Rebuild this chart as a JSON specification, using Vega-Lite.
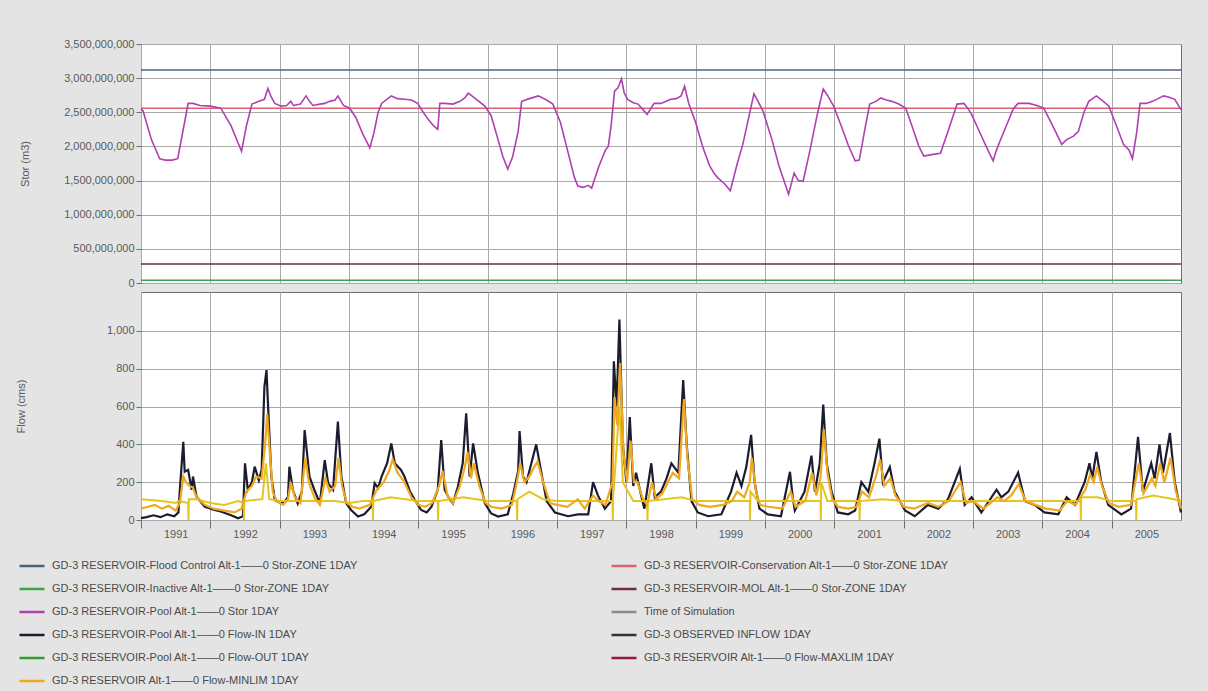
{
  "$schema": "https://vega.github.io/schema/vega-lite/v6.json",
  "background": "#E4E4E4",
  "padding": {"left": 14, "top": 37, "right": 25, "bottom": 5},
  "spacing": 2,
  "config": {
    "view": {"stroke": "#6E6E6E", "strokeWidth": 1, "fill": "#FFFFFF"},
    "axis": {"gridColor": "#A9A9A9", "gridOpacity": 1, "gridWidth": 1, "labelFont": "Liberation Sans", "labelFontSize": 11, "labelColor": "#5A5A5A", "titleFont": "Liberation Sans", "titleFontSize": 11, "titleFontWeight": "normal", "titleColor": "#5A5A5A", "domain": false, "tickColor": "#6E6E6E", "labelOverlap": false}
  },
  "datasets": {
    "zones": [
      {"k": "GD-3 RESERVOIR-Flood Control Alt-1——0 Stor-ZONE 1DAY", "v": 3.12e9},
      {"k": "GD-3 RESERVOIR-Conservation Alt-1——0 Stor-ZONE 1DAY", "v": 2.56e9},
      {"k": "GD-3 RESERVOIR-MOL Alt-1——0 Stor-ZONE 1DAY", "v": 0.28e9},
      {"k": "GD-3 RESERVOIR-Inactive Alt-1——0 Stor-ZONE 1DAY", "v": 0.04e9}
    ],
    "stor": [
      {"t":1991.0,"v":2.55e9},{"t":1991.03,"v":2.52e9},{"t":1991.15,"v":2.10e9},{"t":1991.27,"v":1.82e9},{"t":1991.35,"v":1.80e9},{"t":1991.45,"v":1.80e9},{"t":1991.53,"v":1.82e9},{"t":1991.6,"v":2.2e9},{"t":1991.68,"v":2.63e9},{"t":1991.75,"v":2.63e9},{"t":1991.85,"v":2.60e9},
      {"t":1992.0,"v":2.59e9},{"t":1992.15,"v":2.56e9},{"t":1992.3,"v":2.30e9},{"t":1992.4,"v":2.05e9},{"t":1992.45,"v":1.93e9},{"t":1992.52,"v":2.3e9},{"t":1992.6,"v":2.62e9},{"t":1992.7,"v":2.66e9},{"t":1992.78,"v":2.69e9},{"t":1992.83,"v":2.85e9},{"t":1992.88,"v":2.72e9},{"t":1992.93,"v":2.63e9},
      {"t":1993.02,"v":2.59e9},{"t":1993.1,"v":2.6e9},{"t":1993.16,"v":2.66e9},{"t":1993.2,"v":2.60e9},{"t":1993.3,"v":2.62e9},{"t":1993.38,"v":2.74e9},{"t":1993.43,"v":2.66e9},{"t":1993.48,"v":2.60e9},{"t":1993.58,"v":2.62e9},{"t":1993.65,"v":2.63e9},{"t":1993.72,"v":2.66e9},{"t":1993.8,"v":2.68e9},{"t":1993.84,"v":2.74e9},{"t":1993.92,"v":2.60e9},
      {"t":1994.01,"v":2.56e9},{"t":1994.1,"v":2.42e9},{"t":1994.2,"v":2.18e9},{"t":1994.3,"v":1.98e9},{"t":1994.36,"v":2.2e9},{"t":1994.42,"v":2.5e9},{"t":1994.47,"v":2.63e9},{"t":1994.61,"v":2.74e9},{"t":1994.7,"v":2.70e9},{"t":1994.8,"v":2.69e9},{"t":1994.9,"v":2.68e9},{"t":1994.99,"v":2.63e9},
      {"t":1995.07,"v":2.5e9},{"t":1995.14,"v":2.40e9},{"t":1995.22,"v":2.30e9},{"t":1995.28,"v":2.25e9},{"t":1995.31,"v":2.63e9},{"t":1995.38,"v":2.63e9},{"t":1995.5,"v":2.62e9},{"t":1995.6,"v":2.66e9},{"t":1995.67,"v":2.71e9},{"t":1995.72,"v":2.78e9},{"t":1995.81,"v":2.71e9},{"t":1995.96,"v":2.59e9},
      {"t":1996.05,"v":2.45e9},{"t":1996.15,"v":2.1e9},{"t":1996.22,"v":1.85e9},{"t":1996.29,"v":1.67e9},{"t":1996.36,"v":1.85e9},{"t":1996.44,"v":2.22e9},{"t":1996.49,"v":2.66e9},{"t":1996.6,"v":2.70e9},{"t":1996.73,"v":2.74e9},{"t":1996.85,"v":2.68e9},{"t":1996.94,"v":2.62e9},
      {"t":1997.05,"v":2.35e9},{"t":1997.15,"v":1.95e9},{"t":1997.25,"v":1.55e9},{"t":1997.3,"v":1.42e9},{"t":1997.38,"v":1.40e9},{"t":1997.45,"v":1.43e9},{"t":1997.5,"v":1.39e9},{"t":1997.6,"v":1.7e9},{"t":1997.7,"v":1.95e9},{"t":1997.74,"v":2.0e9},{"t":1997.78,"v":2.3e9},{"t":1997.83,"v":2.81e9},{"t":1997.88,"v":2.86e9},{"t":1997.93,"v":2.99e9},{"t":1997.97,"v":2.78e9},
      {"t":1998.02,"v":2.69e9},{"t":1998.1,"v":2.64e9},{"t":1998.17,"v":2.62e9},{"t":1998.23,"v":2.55e9},{"t":1998.3,"v":2.47e9},{"t":1998.4,"v":2.63e9},{"t":1998.5,"v":2.63e9},{"t":1998.64,"v":2.69e9},{"t":1998.72,"v":2.70e9},{"t":1998.79,"v":2.74e9},{"t":1998.84,"v":2.88e9},{"t":1998.9,"v":2.63e9},
      {"t":1999.0,"v":2.35e9},{"t":1999.1,"v":2.0e9},{"t":1999.2,"v":1.72e9},{"t":1999.27,"v":1.60e9},{"t":1999.32,"v":1.54e9},{"t":1999.42,"v":1.45e9},{"t":1999.5,"v":1.35e9},{"t":1999.6,"v":1.75e9},{"t":1999.68,"v":2.03e9},{"t":1999.76,"v":2.4e9},{"t":1999.84,"v":2.77e9},{"t":1999.9,"v":2.66e9},{"t":1999.97,"v":2.52e9},
      {"t":2000.1,"v":2.1e9},{"t":2000.2,"v":1.72e9},{"t":2000.34,"v":1.30e9},{"t":2000.42,"v":1.61e9},{"t":2000.48,"v":1.50e9},{"t":2000.55,"v":1.49e9},{"t":2000.65,"v":1.95e9},{"t":2000.75,"v":2.45e9},{"t":2000.84,"v":2.84e9},{"t":2000.9,"v":2.75e9},{"t":2000.99,"v":2.59e9},
      {"t":2001.1,"v":2.3e9},{"t":2001.2,"v":2.02e9},{"t":2001.3,"v":1.79e9},{"t":2001.36,"v":1.80e9},{"t":2001.44,"v":2.25e9},{"t":2001.51,"v":2.62e9},{"t":2001.6,"v":2.66e9},{"t":2001.67,"v":2.71e9},{"t":2001.75,"v":2.68e9},{"t":2001.83,"v":2.66e9},{"t":2001.93,"v":2.62e9},
      {"t":2002.03,"v":2.56e9},{"t":2002.12,"v":2.3e9},{"t":2002.22,"v":2.0e9},{"t":2002.29,"v":1.86e9},{"t":2002.4,"v":1.88e9},{"t":2002.53,"v":1.90e9},{"t":2002.65,"v":2.25e9},{"t":2002.77,"v":2.62e9},{"t":2002.87,"v":2.63e9},{"t":2002.93,"v":2.55e9},{"t":2002.98,"v":2.47e9},
      {"t":2003.1,"v":2.2e9},{"t":2003.2,"v":1.98e9},{"t":2003.29,"v":1.79e9},{"t":2003.34,"v":1.95e9},{"t":2003.39,"v":2.08e9},{"t":2003.5,"v":2.35e9},{"t":2003.58,"v":2.55e9},{"t":2003.65,"v":2.63e9},{"t":2003.81,"v":2.63e9},{"t":2003.92,"v":2.60e9},
      {"t":2004.02,"v":2.56e9},{"t":2004.15,"v":2.30e9},{"t":2004.28,"v":2.03e9},{"t":2004.35,"v":2.10e9},{"t":2004.45,"v":2.15e9},{"t":2004.52,"v":2.22e9},{"t":2004.6,"v":2.5e9},{"t":2004.67,"v":2.66e9},{"t":2004.78,"v":2.74e9},{"t":2004.88,"v":2.66e9},{"t":2004.96,"v":2.59e9},
      {"t":2005.07,"v":2.3e9},{"t":2005.17,"v":2.03e9},{"t":2005.25,"v":1.95e9},{"t":2005.3,"v":1.82e9},{"t":2005.36,"v":2.2e9},{"t":2005.41,"v":2.63e9},{"t":2005.5,"v":2.63e9},{"t":2005.59,"v":2.66e9},{"t":2005.67,"v":2.70e9},{"t":2005.75,"v":2.74e9},{"t":2005.83,"v":2.72e9},{"t":2005.91,"v":2.69e9},{"t":2006.0,"v":2.54e9}
    ],
    "inflow": [
      {"t":1991.0,"v":10},{"t":1991.08,"v":15},{"t":1991.18,"v":25},{"t":1991.28,"v":15},{"t":1991.38,"v":30},{"t":1991.48,"v":20},{"t":1991.54,"v":40},{"t":1991.56,"v":160},{"t":1991.61,"v":414},{"t":1991.63,"v":255},{"t":1991.68,"v":265},{"t":1991.73,"v":160},{"t":1991.75,"v":230},{"t":1991.8,"v":123},{"t":1991.92,"v":70},
      {"t":1992.05,"v":55},{"t":1992.16,"v":44},{"t":1992.3,"v":25},{"t":1992.4,"v":9},{"t":1992.47,"v":20},{"t":1992.5,"v":300},{"t":1992.54,"v":160},{"t":1992.6,"v":200},{"t":1992.64,"v":282},{"t":1992.7,"v":210},{"t":1992.74,"v":265},{"t":1992.78,"v":705},{"t":1992.81,"v":793},{"t":1992.84,"v":546},{"t":1992.88,"v":230},{"t":1992.93,"v":106},
      {"t":1993.02,"v":88},{"t":1993.08,"v":100},{"t":1993.12,"v":123},{"t":1993.14,"v":282},{"t":1993.19,"v":160},{"t":1993.26,"v":88},{"t":1993.32,"v":150},{"t":1993.36,"v":476},{"t":1993.38,"v":405},{"t":1993.43,"v":230},{"t":1993.5,"v":160},{"t":1993.58,"v":88},{"t":1993.65,"v":317},{"t":1993.7,"v":194},{"t":1993.77,"v":160},{"t":1993.84,"v":520},{"t":1993.89,"v":230},{"t":1993.96,"v":88},
      {"t":1994.03,"v":53},{"t":1994.13,"v":18},{"t":1994.22,"v":30},{"t":1994.32,"v":70},{"t":1994.37,"v":194},{"t":1994.42,"v":170},{"t":1994.47,"v":230},{"t":1994.55,"v":300},{"t":1994.61,"v":405},{"t":1994.66,"v":300},{"t":1994.75,"v":265},{"t":1994.8,"v":230},{"t":1994.88,"v":150},{"t":1994.95,"v":106},
      {"t":1995.04,"v":53},{"t":1995.12,"v":40},{"t":1995.19,"v":70},{"t":1995.28,"v":160},{"t":1995.33,"v":423},{"t":1995.38,"v":160},{"t":1995.45,"v":110},{"t":1995.5,"v":88},{"t":1995.57,"v":176},{"t":1995.64,"v":300},{"t":1995.69,"v":564},{"t":1995.74,"v":230},{"t":1995.79,"v":405},{"t":1995.86,"v":247},{"t":1995.96,"v":88},
      {"t":1996.05,"v":35},{"t":1996.15,"v":18},{"t":1996.29,"v":30},{"t":1996.37,"v":140},{"t":1996.44,"v":260},{"t":1996.46,"v":470},{"t":1996.51,"v":230},{"t":1996.56,"v":200},{"t":1996.63,"v":300},{"t":1996.7,"v":400},{"t":1996.77,"v":260},{"t":1996.85,"v":100},{"t":1996.97,"v":40},
      {"t":1997.16,"v":20},{"t":1997.3,"v":30},{"t":1997.45,"v":30},{"t":1997.52,"v":200},{"t":1997.59,"v":130},{"t":1997.69,"v":60},{"t":1997.78,"v":100},{"t":1997.82,"v":840},{"t":1997.86,"v":600},{"t":1997.9,"v":1060},{"t":1997.95,"v":400},
      {"t":1998.0,"v":200},{"t":1998.05,"v":545},{"t":1998.1,"v":180},{"t":1998.14,"v":250},{"t":1998.22,"v":120},{"t":1998.26,"v":60},{"t":1998.36,"v":300},{"t":1998.41,"v":120},{"t":1998.5,"v":150},{"t":1998.58,"v":220},{"t":1998.65,"v":300},{"t":1998.75,"v":250},{"t":1998.82,"v":740},{"t":1998.87,"v":400},{"t":1998.94,"v":100},
      {"t":1999.03,"v":40},{"t":1999.18,"v":20},{"t":1999.37,"v":30},{"t":1999.51,"v":150},{"t":1999.59,"v":250},{"t":1999.66,"v":180},{"t":1999.73,"v":280},{"t":1999.8,"v":450},{"t":1999.85,"v":200},{"t":1999.92,"v":60},
      {"t":2000.04,"v":30},{"t":2000.23,"v":20},{"t":2000.36,"v":255},{"t":2000.4,"v":120},{"t":2000.43,"v":50},{"t":2000.57,"v":150},{"t":2000.67,"v":340},{"t":2000.72,"v":150},{"t":2000.79,"v":300},{"t":2000.84,"v":610},{"t":2000.89,"v":300},{"t":2000.96,"v":150},
      {"t":2001.05,"v":40},{"t":2001.2,"v":30},{"t":2001.3,"v":50},{"t":2001.39,"v":200},{"t":2001.49,"v":150},{"t":2001.58,"v":300},{"t":2001.65,"v":430},{"t":2001.7,"v":200},{"t":2001.8,"v":280},{"t":2001.87,"v":150},
      {"t":2002.02,"v":50},{"t":2002.16,"v":20},{"t":2002.35,"v":80},{"t":2002.5,"v":60},{"t":2002.64,"v":110},{"t":2002.81,"v":270},{"t":2002.88,"v":80},{"t":2002.98,"v":120},
      {"t":2003.12,"v":40},{"t":2003.34,"v":160},{"t":2003.41,"v":120},{"t":2003.51,"v":150},{"t":2003.65,"v":250},{"t":2003.75,"v":100},{"t":2003.89,"v":80},
      {"t":2004.03,"v":40},{"t":2004.23,"v":30},{"t":2004.35,"v":120},{"t":2004.47,"v":80},{"t":2004.61,"v":200},{"t":2004.68,"v":300},{"t":2004.72,"v":220},{"t":2004.78,"v":360},{"t":2004.85,"v":200},{"t":2004.95,"v":80},
      {"t":2005.14,"v":30},{"t":2005.28,"v":60},{"t":2005.38,"v":440},{"t":2005.45,"v":150},{"t":2005.57,"v":300},{"t":2005.62,"v":220},{"t":2005.69,"v":400},{"t":2005.74,"v":250},{"t":2005.84,"v":460},{"t":2005.91,"v":200},{"t":2006.0,"v":40}
    ],
    "minlim": [
      {"t":1991.0,"v":60},{"t":1991.1,"v":70},{"t":1991.2,"v":80},{"t":1991.3,"v":60},{"t":1991.4,"v":75},{"t":1991.5,"v":50},{"t":1991.56,"v":90},{"t":1991.61,"v":230},{"t":1991.65,"v":200},{"t":1991.7,"v":180},{"t":1991.75,"v":170},{"t":1991.8,"v":120},{"t":1991.92,"v":80},
      {"t":1992.05,"v":60},{"t":1992.2,"v":50},{"t":1992.35,"v":40},{"t":1992.45,"v":60},{"t":1992.52,"v":150},{"t":1992.6,"v":180},{"t":1992.66,"v":230},{"t":1992.74,"v":220},{"t":1992.79,"v":400},{"t":1992.82,"v":560},{"t":1992.86,"v":350},{"t":1992.9,"v":150},{"t":1992.96,"v":100},
      {"t":1993.05,"v":80},{"t":1993.12,"v":110},{"t":1993.16,"v":200},{"t":1993.22,"v":120},{"t":1993.3,"v":90},{"t":1993.37,"v":330},{"t":1993.42,"v":200},{"t":1993.5,"v":120},{"t":1993.58,"v":80},{"t":1993.66,"v":220},{"t":1993.72,"v":150},{"t":1993.8,"v":180},{"t":1993.85,"v":330},{"t":1993.9,"v":180},{"t":1993.97,"v":90},
      {"t":1994.05,"v":70},{"t":1994.15,"v":60},{"t":1994.3,"v":80},{"t":1994.4,"v":160},{"t":1994.5,"v":200},{"t":1994.58,"v":260},{"t":1994.63,"v":320},{"t":1994.7,"v":250},{"t":1994.8,"v":200},{"t":1994.9,"v":120},
      {"t":1995.0,"v":80},{"t":1995.1,"v":70},{"t":1995.2,"v":90},{"t":1995.3,"v":180},{"t":1995.35,"v":260},{"t":1995.42,"v":130},{"t":1995.5,"v":90},{"t":1995.6,"v":180},{"t":1995.67,"v":280},{"t":1995.71,"v":360},{"t":1995.76,"v":220},{"t":1995.8,"v":300},{"t":1995.88,"v":180},{"t":1995.97,"v":90},
      {"t":1996.05,"v":70},{"t":1996.2,"v":60},{"t":1996.35,"v":80},{"t":1996.42,"v":200},{"t":1996.47,"v":300},{"t":1996.53,"v":200},{"t":1996.6,"v":230},{"t":1996.67,"v":280},{"t":1996.72,"v":310},{"t":1996.8,"v":200},{"t":1996.9,"v":90},
      {"t":1997.0,"v":80},{"t":1997.15,"v":70},{"t":1997.3,"v":110},{"t":1997.4,"v":60},{"t":1997.52,"v":130},{"t":1997.6,"v":100},{"t":1997.7,"v":80},{"t":1997.8,"v":200},{"t":1997.83,"v":650},{"t":1997.87,"v":500},{"t":1997.91,"v":830},{"t":1997.96,"v":350},
      {"t":1998.01,"v":200},{"t":1998.06,"v":420},{"t":1998.11,"v":200},{"t":1998.16,"v":200},{"t":1998.24,"v":110},{"t":1998.3,"v":80},{"t":1998.37,"v":200},{"t":1998.43,"v":110},{"t":1998.52,"v":140},{"t":1998.6,"v":200},{"t":1998.67,"v":250},{"t":1998.76,"v":220},{"t":1998.83,"v":640},{"t":1998.88,"v":330},{"t":1998.95,"v":110},
      {"t":1999.05,"v":80},{"t":1999.2,"v":70},{"t":1999.4,"v":80},{"t":1999.52,"v":100},{"t":1999.6,"v":150},{"t":1999.7,"v":120},{"t":1999.78,"v":200},{"t":1999.81,"v":330},{"t":1999.87,"v":150},{"t":1999.93,"v":80},
      {"t":2000.05,"v":70},{"t":2000.25,"v":60},{"t":2000.37,"v":150},{"t":2000.44,"v":70},{"t":2000.58,"v":100},{"t":2000.68,"v":250},{"t":2000.74,"v":130},{"t":2000.8,"v":220},{"t":2000.85,"v":480},{"t":2000.9,"v":250},{"t":2000.97,"v":110},
      {"t":2001.05,"v":70},{"t":2001.2,"v":60},{"t":2001.32,"v":70},{"t":2001.4,"v":150},{"t":2001.5,"v":120},{"t":2001.6,"v":230},{"t":2001.66,"v":320},{"t":2001.72,"v":180},{"t":2001.81,"v":220},{"t":2001.88,"v":130},
      {"t":2002.0,"v":70},{"t":2002.15,"v":60},{"t":2002.35,"v":90},{"t":2002.5,"v":70},{"t":2002.65,"v":100},{"t":2002.82,"v":200},{"t":2002.9,"v":90},
      {"t":2003.0,"v":100},{"t":2003.15,"v":60},{"t":2003.35,"v":120},{"t":2003.45,"v":100},{"t":2003.55,"v":130},{"t":2003.66,"v":190},{"t":2003.76,"v":100},{"t":2003.9,"v":80},
      {"t":2004.05,"v":60},{"t":2004.25,"v":50},{"t":2004.36,"v":100},{"t":2004.48,"v":80},{"t":2004.62,"v":160},{"t":2004.69,"v":240},{"t":2004.74,"v":200},{"t":2004.79,"v":280},{"t":2004.86,"v":180},{"t":2004.96,"v":90},
      {"t":2005.1,"v":70},{"t":2005.28,"v":80},{"t":2005.39,"v":300},{"t":2005.46,"v":140},{"t":2005.58,"v":220},{"t":2005.63,"v":180},{"t":2005.7,"v":300},{"t":2005.76,"v":200},{"t":2005.85,"v":330},{"t":2005.92,"v":160},{"t":2006.0,"v":60}
    ],
    "base": [
      {"t":1991.0,"v":110},{"t":1991.3,"v":100},{"t":1991.5,"v":90},{"t":1991.55,"v":100},{"t":1991.68,"v":90},{"t":1991.685,"v":0},{"t":1991.69,"v":110},{"t":1991.8,"v":110},
      {"t":1992.0,"v":90},{"t":1992.2,"v":80},{"t":1992.4,"v":100},{"t":1992.48,"v":90},{"t":1992.485,"v":0},{"t":1992.49,"v":100},{"t":1992.75,"v":110},{"t":1992.8,"v":300},{"t":1992.85,"v":110},
      {"t":1993.0,"v":100},{"t":1993.2,"v":100},{"t":1993.5,"v":100},{"t":1993.8,"v":100},
      {"t":1994.0,"v":90},{"t":1994.2,"v":100},{"t":1994.34,"v":100},{"t":1994.345,"v":0},{"t":1994.35,"v":100},{"t":1994.6,"v":120},
      {"t":1995.0,"v":100},{"t":1995.28,"v":100},{"t":1995.285,"v":0},{"t":1995.29,"v":100},{"t":1995.65,"v":120},
      {"t":1996.0,"v":100},{"t":1996.2,"v":100},{"t":1996.42,"v":100},{"t":1996.425,"v":0},{"t":1996.43,"v":110},{"t":1996.6,"v":150},{"t":1996.8,"v":110},
      {"t":1997.0,"v":100},{"t":1997.3,"v":100},{"t":1997.6,"v":100},{"t":1997.8,"v":100},{"t":1997.805,"v":0},{"t":1997.81,"v":120},{"t":1997.9,"v":600},{"t":1997.95,"v":200},
      {"t":1998.1,"v":100},{"t":1998.3,"v":100},{"t":1998.305,"v":0},{"t":1998.31,"v":100},{"t":1998.8,"v":120},
      {"t":1999.0,"v":100},{"t":1999.3,"v":100},{"t":1999.6,"v":100},{"t":1999.78,"v":100},{"t":1999.785,"v":0},{"t":1999.79,"v":150},{"t":1999.9,"v":100},
      {"t":2000.2,"v":100},{"t":2000.6,"v":100},{"t":2000.8,"v":100},{"t":2000.805,"v":0},{"t":2000.81,"v":200},{"t":2000.9,"v":100},
      {"t":2001.2,"v":100},{"t":2001.36,"v":100},{"t":2001.365,"v":0},{"t":2001.37,"v":100},{"t":2001.7,"v":110},
      {"t":2002.0,"v":100},{"t":2002.3,"v":100},{"t":2002.6,"v":100},{"t":2002.9,"v":100},
      {"t":2003.2,"v":100},{"t":2003.5,"v":100},{"t":2003.8,"v":100},
      {"t":2004.1,"v":100},{"t":2004.4,"v":100},{"t":2004.55,"v":100},{"t":2004.555,"v":0},{"t":2004.56,"v":120},{"t":2004.8,"v":120},
      {"t":2005.0,"v":100},{"t":2005.3,"v":100},{"t":2005.35,"v":100},{"t":2005.355,"v":0},{"t":2005.36,"v":110},{"t":2005.6,"v":130},{"t":2005.9,"v":110},{"t":2006.0,"v":100}
    ]
  },
  "vconcat": [
    {
      "width": 1040,
      "height": 239,
      "encoding": {
        "y": {"field": "v", "type": "quantitative", "scale": {"domain": [0, 3500000000], "nice": false},
          "axis": {"values": [0, 500000000, 1000000000, 1500000000, 2000000000, 2500000000, 3000000000, 3500000000], "tickCount": 8, "format": ",.0f", "tickSize": 5, "labelPadding": 2, "title": "Stor (m3)", "titlePadding": 33}}
      },
      "layer": [
        {
          "data": {"name": "zones"},
          "mark": {"type": "rule", "strokeWidth": 1.5},
          "encoding": {
            "color": {
              "field": "k", "type": "nominal",
              "scale": {
                "domain": [
                  "GD-3 RESERVOIR-Flood Control Alt-1——0 Stor-ZONE 1DAY",
                  "GD-3 RESERVOIR-Inactive Alt-1——0 Stor-ZONE 1DAY",
                  "GD-3 RESERVOIR-Pool Alt-1——0 Stor 1DAY",
                  "GD-3 RESERVOIR-Pool Alt-1——0 Flow-IN 1DAY",
                  "GD-3 RESERVOIR-Pool Alt-1——0 Flow-OUT 1DAY",
                  "GD-3 RESERVOIR Alt-1——0 Flow-MINLIM 1DAY",
                  "GD-3 RESERVOIR-Conservation Alt-1——0 Stor-ZONE 1DAY",
                  "GD-3 RESERVOIR-MOL Alt-1——0 Stor-ZONE 1DAY",
                  "Time of Simulation",
                  "GD-3 OBSERVED INFLOW 1DAY",
                  "GD-3 RESERVOIR Alt-1——0 Flow-MAXLIM 1DAY"
                ],
                "range": ["#4E6280", "#3FA34D", "#B040B0", "#1C1C30", "#2DA02D", "#F0A81E", "#D9626E", "#6A3040", "#8A8A8A", "#333333", "#8E1B3A"]
              },
              "legend": {
                "orient": "none", "legendX": -123, "legendY": 508, "columns": 2, "title": null,
                "symbolType": "stroke", "symbolStrokeWidth": 2.5, "symbolSize": 625,
                "labelFont": "Liberation Sans", "labelFontSize": 11, "labelColor": "#4A4A4A", "labelLimit": 500, "labelOffset": 6,
                "rowPadding": 4, "columnPadding": 248
              }
            }
          }
        },
        {
          "data": {"name": "stor"},
          "mark": {"type": "line", "strokeWidth": 1.6},
          "encoding": {
            "x": {"field": "t", "type": "quantitative", "scale": {"domain": [1991, 2006], "nice": false, "zero": false},
              "axis": {"values": [1991, 1992, 1993, 1994, 1995, 1996, 1997, 1998, 1999, 2000, 2001, 2002, 2003, 2004, 2005], "labels": false, "ticks": false, "title": null, "minExtent": 0, "maxExtent": 0}},
            "color": {"datum": "GD-3 RESERVOIR-Pool Alt-1——0 Stor 1DAY", "type": "nominal"}
          }
        }
      ]
    },
    {
      "width": 1040,
      "height": 228,
      "layer": [
        {
          "data": {"name": "inflow"},
          "mark": {"type": "line", "strokeWidth": 2.2},
          "encoding": {
            "x": {"field": "t", "type": "quantitative", "scale": {"domain": [1991, 2006], "nice": false, "zero": false},
              "axis": {"values": [1991, 1992, 1993, 1994, 1995, 1996, 1997, 1998, 1999, 2000, 2001, 2002, 2003, 2004, 2005], "format": "d", "labelOffset": 34.7, "labelFlush": false, "tickSize": 8, "labelPadding": 0, "title": null}},
            "y": {"field": "v", "type": "quantitative", "scale": {"domain": [0, 1206], "nice": false},
              "axis": {"values": [0, 200, 400, 600, 800, 1000], "format": ",.0f", "tickSize": 5, "labelPadding": 2, "title": "Flow (cms)", "titlePadding": 80}},
            "color": {"datum": "GD-3 RESERVOIR-Pool Alt-1——0 Flow-IN 1DAY", "type": "nominal"}
          }
        },
        {
          "data": {"name": "base"},
          "mark": {"type": "line", "strokeWidth": 2, "color": "#E3C51E"},
          "encoding": {
            "x": {"field": "t", "type": "quantitative"},
            "y": {"field": "v", "type": "quantitative"}
          }
        },
        {
          "data": {"name": "minlim"},
          "mark": {"type": "line", "strokeWidth": 2.2},
          "encoding": {
            "x": {"field": "t", "type": "quantitative"},
            "y": {"field": "v", "type": "quantitative"},
            "color": {"datum": "GD-3 RESERVOIR Alt-1——0 Flow-MINLIM 1DAY", "type": "nominal"}
          }
        }
      ]
    }
  ]
}
